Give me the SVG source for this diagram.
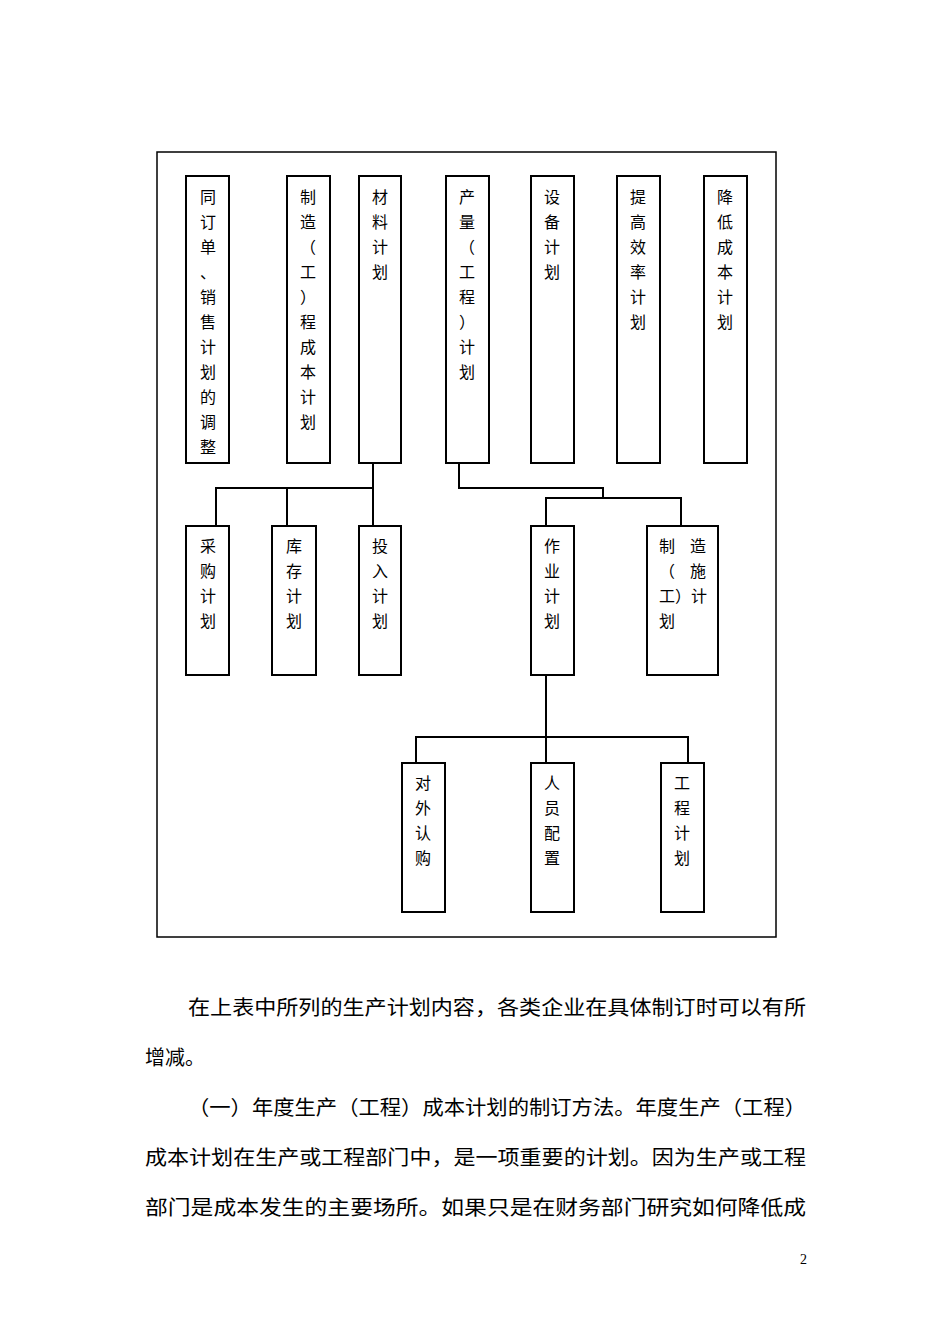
<svg xmlns="http://www.w3.org/2000/svg" width="950" height="1344" viewBox="0 0 950 1344">
<style>
.b{fill:#fff;stroke:#000;stroke-width:2}
.t{font-family:"Noto Sans CJK SC",sans-serif;font-size:16px;text-anchor:middle;fill:#000}
.c{fill:none;stroke:#000;stroke-width:2}
.p{font-family:"Noto Sans CJK SC",sans-serif;font-size:20px;fill:#000}
</style>
<rect x="0" y="0" width="950" height="1344" fill="#fff"/>
<rect x="157" y="152" width="619" height="785" fill="none" stroke="#000" stroke-width="1.5"/>
<g id="connectors">
<path class="c" d="M373 463V488M216 526V488H373V526M287 488V526"/>
<path class="c" d="M459 463V488H603V498M546 526V498H681V526"/>
<path class="c" d="M546 675V737M416 763V737H688V763M546 737V763"/>
</g>
<g id="n1"><rect class="b" x="186" y="176" width="43" height="287"/><text class="t"><tspan x="208" y="203">同</tspan><tspan x="208" y="228">订</tspan><tspan x="208" y="253">单</tspan><tspan x="208" y="278">、</tspan><tspan x="208" y="303">销</tspan><tspan x="208" y="328">售</tspan><tspan x="208" y="353">计</tspan><tspan x="208" y="378">划</tspan><tspan x="208" y="403">的</tspan><tspan x="208" y="428">调</tspan><tspan x="208" y="453">整</tspan></text></g>
<g id="n2"><rect class="b" x="287" y="176" width="43" height="287"/><text class="t"><tspan x="308" y="203">制</tspan><tspan x="308" y="228">造</tspan><tspan x="308" y="253">（</tspan><tspan x="308" y="278">工</tspan><tspan x="308" y="303">）</tspan><tspan x="308" y="328">程</tspan><tspan x="308" y="353">成</tspan><tspan x="308" y="378">本</tspan><tspan x="308" y="403">计</tspan><tspan x="308" y="428">划</tspan></text></g>
<g id="n3"><rect class="b" x="359" y="176" width="42" height="287"/><text class="t"><tspan x="380" y="203">材</tspan><tspan x="380" y="228">料</tspan><tspan x="380" y="253">计</tspan><tspan x="380" y="278">划</tspan></text></g>
<g id="n4"><rect class="b" x="446" y="176" width="43" height="287"/><text class="t"><tspan x="467" y="203">产</tspan><tspan x="467" y="228">量</tspan><tspan x="467" y="253">（</tspan><tspan x="467" y="278">工</tspan><tspan x="467" y="303">程</tspan><tspan x="467" y="328">）</tspan><tspan x="467" y="353">计</tspan><tspan x="467" y="378">划</tspan></text></g>
<g id="n5"><rect class="b" x="531" y="176" width="43" height="287"/><text class="t"><tspan x="552" y="203">设</tspan><tspan x="552" y="228">备</tspan><tspan x="552" y="253">计</tspan><tspan x="552" y="278">划</tspan></text></g>
<g id="n6"><rect class="b" x="617" y="176" width="43" height="287"/><text class="t"><tspan x="638" y="203">提</tspan><tspan x="638" y="228">高</tspan><tspan x="638" y="253">效</tspan><tspan x="638" y="278">率</tspan><tspan x="638" y="303">计</tspan><tspan x="638" y="328">划</tspan></text></g>
<g id="n7"><rect class="b" x="704" y="176" width="43" height="287"/><text class="t"><tspan x="725" y="203">降</tspan><tspan x="725" y="228">低</tspan><tspan x="725" y="253">成</tspan><tspan x="725" y="278">本</tspan><tspan x="725" y="303">计</tspan><tspan x="725" y="328">划</tspan></text></g>
<g id="n8"><rect class="b" x="186" y="526" width="43" height="149"/><text class="t"><tspan x="208" y="552">采</tspan><tspan x="208" y="577">购</tspan><tspan x="208" y="602">计</tspan><tspan x="208" y="627">划</tspan></text></g>
<g id="n9"><rect class="b" x="272" y="526" width="44" height="149"/><text class="t"><tspan x="294" y="552">库</tspan><tspan x="294" y="577">存</tspan><tspan x="294" y="602">计</tspan><tspan x="294" y="627">划</tspan></text></g>
<g id="n10"><rect class="b" x="359" y="526" width="42" height="149"/><text class="t"><tspan x="380" y="552">投</tspan><tspan x="380" y="577">入</tspan><tspan x="380" y="602">计</tspan><tspan x="380" y="627">划</tspan></text></g>
<g id="n11"><rect class="b" x="531" y="526" width="43" height="149"/><text class="t"><tspan x="552" y="552">作</tspan><tspan x="552" y="577">业</tspan><tspan x="552" y="602">计</tspan><tspan x="552" y="627">划</tspan></text></g>
<g id="n12"><rect class="b" x="647" y="526" width="71" height="149"/><text class="t" style="text-anchor:start"><tspan x="659" y="552">制</tspan><tspan x="690" y="552">造</tspan><tspan x="659" y="577">（</tspan><tspan x="690" y="577">施</tspan><tspan x="659" y="602">工）计</tspan><tspan x="659" y="627">划</tspan></text></g>
<g id="n13"><rect class="b" x="402" y="763" width="43" height="149"/><text class="t"><tspan x="423" y="789">对</tspan><tspan x="423" y="814">外</tspan><tspan x="423" y="839">认</tspan><tspan x="423" y="864">购</tspan></text></g>
<g id="n14"><rect class="b" x="531" y="763" width="43" height="149"/><text class="t"><tspan x="552" y="789">人</tspan><tspan x="552" y="814">员</tspan><tspan x="552" y="839">配</tspan><tspan x="552" y="864">置</tspan></text></g>
<g id="n15"><rect class="b" x="661" y="763" width="43" height="149"/><text class="t"><tspan x="682" y="789">工</tspan><tspan x="682" y="814">程</tspan><tspan x="682" y="839">计</tspan><tspan x="682" y="864">划</tspan></text></g>
<text class="p" x="188" y="1015" textLength="618" lengthAdjust="spacingAndGlyphs">在上表中所列的生产计划内容，各类企业在具体制订时可以有所</text>
<text class="p" x="145" y="1065">增减。</text>
<text class="p" x="188" y="1115" textLength="618" lengthAdjust="spacingAndGlyphs">（一）年度生产（工程）成本计划的制订方法。年度生产（工程）</text>
<text class="p" x="145" y="1165" textLength="661" lengthAdjust="spacingAndGlyphs">成本计划在生产或工程部门中，是一项重要的计划。因为生产或工程</text>
<text class="p" x="145" y="1215" textLength="661" lengthAdjust="spacingAndGlyphs">部门是成本发生的主要场所。如果只是在财务部门研究如何降低成</text>
<text x="800" y="1264" style="font-family:'Liberation Serif',serif;font-size:14px">2</text>
</svg>
